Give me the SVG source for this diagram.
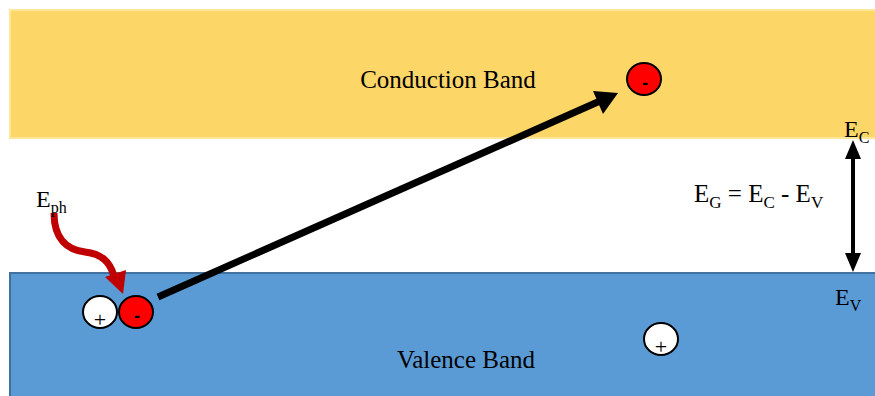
<svg xmlns="http://www.w3.org/2000/svg" width="875" height="396" viewBox="0 0 875 396">
<defs>
<style>
text{font-family:"Liberation Serif","Times New Roman",serif;fill:#000}
.lbl{font-size:24px}
.sub{font-size:16px}
.eg{font-size:25px}
.eg .sub{font-size:17px}
.band{font-size:25px}
.p{fill:#fff;stroke:#000;stroke-width:2}
.e{fill:#ff0000;stroke:#000;stroke-width:2}
.sign{font-family:"Liberation Sans",Arial,sans-serif;font-size:18px;text-anchor:middle}
.plus{font-size:22px;font-family:"Liberation Serif","Times New Roman",serif}
.minus{font-weight:bold}
</style>
</defs>
<rect width="875" height="396" fill="#fff"/>
<g id="conduction-band">
<rect x="10" y="10" width="867" height="128" fill="#FDD668" stroke="#FFE699" stroke-width="2"/>
<text class="band" x="448" y="88" text-anchor="middle">Conduction Band</text>
</g>
<g id="valence-band">
<rect x="10" y="273" width="867" height="125" fill="#5B9BD5" stroke="#41719C" stroke-width="2"/>
<text class="band" x="466" y="368" text-anchor="middle">Valence Band</text>
</g>
<g id="connectors">
<line x1="158" y1="297" x2="600" y2="101" stroke="#000" stroke-width="7"/>
<polygon points="618,93 593,91 603,114" fill="#000"/>
<path d="M54 213 C54 240 68 250 85 252 C102 254 110 262 114 276" fill="none" stroke="#C00000" stroke-width="7"/>
<polygon points="105,277 126,270 123,294" fill="#C00000"/>
<line x1="853" y1="158" x2="853" y2="254" stroke="#000" stroke-width="4"/>
<polygon points="853,140 845,159 861,159" fill="#000"/>
<polygon points="853,272 845,253 861,253" fill="#000"/>
</g>
<g id="electron-top">
<ellipse class="e" cx="644" cy="79" rx="17" ry="16"/>
<text class="sign minus" x="645" y="89">-</text>
</g>
<g id="hole-left">
<ellipse class="p" cx="100" cy="312" rx="17" ry="16"/>
<text class="sign plus" x="100" y="327">+</text>
</g>
<g id="electron-left">
<ellipse class="e" cx="136" cy="312" rx="17" ry="16"/>
<text class="sign minus" x="137" y="322">-</text>
</g>
<g id="hole-right">
<ellipse class="p" cx="661" cy="339" rx="17" ry="16"/>
<text class="sign plus" x="661" y="354">+</text>
</g>
<g id="eph-label">
<text class="lbl" x="36" y="207">E<tspan class="sub" dy="6">ph</tspan></text>
</g>
<g id="ec-label">
<text class="lbl" x="844" y="137">E<tspan class="sub" dy="6">C</tspan></text>
</g>
<g id="ev-label">
<text class="lbl" x="835" y="305">E<tspan class="sub" dy="6">V</tspan></text>
</g>
<g id="eg-label">
<text class="eg" x="694" y="202">E<tspan class="sub" dy="6">G</tspan><tspan dy="-6"> = E</tspan><tspan class="sub" dy="6">C</tspan><tspan dy="-6"> - E</tspan><tspan class="sub" dy="6">V</tspan></text>
</g>
</svg>
